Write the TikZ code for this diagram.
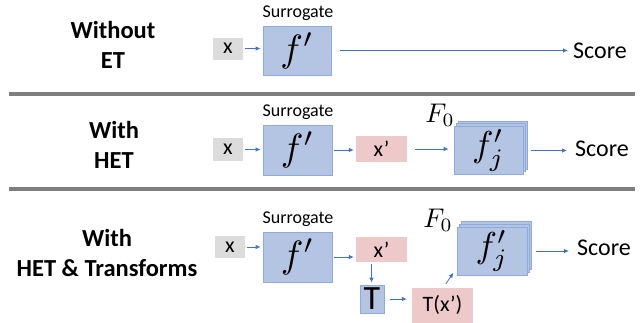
\documentclass[tikz,border=0pt]{standalone}
\usepackage{graphicx}
\usepackage{fontspec}
\setmainfont{Carlito}
\usetikzlibrary{arrows.meta,calc}
\definecolor{bfill}{HTML}{B4C5E4}
\definecolor{bdraw}{HTML}{8FAADC}
\definecolor{pfill}{HTML}{EDC9C9}
\definecolor{gfill}{HTML}{DCDCDC}
\definecolor{arrowblue}{HTML}{4472C4}
\definecolor{sepgray}{HTML}{7F7F7F}
\newcommand{\bigmath}[2]{\scalebox{#1}{\normalsize$#2$}}
\begin{document}
\begin{tikzpicture}[x=1pt,y=-1pt,
  title/.style={align=center,font=\bfseries\fontsize{24.5}{30}\selectfont,inner sep=0},
  lab/.style={font=\fontsize{18}{20}\selectfont,inner sep=0},
  scoretxt/.style={anchor=west,font=\fontsize{24}{26}\selectfont,inner sep=0},
  graybox/.style={fill=gfill,draw=none,minimum width=30,minimum height=22,inner sep=0,font=\fontsize{22}{24}\selectfont},
  pinkbox/.style={fill=pfill,draw=none,inner sep=0,font=\fontsize{22}{24}\selectfont},
  bluebox/.style={fill=bfill,draw=bdraw,line width=0.8pt,inner sep=0},
  arr/.style={draw=arrowblue,line width=0.8pt,-{Latex[length=5pt,width=4.5pt]},shorten <=2pt,shorten >=2pt},
  sepline/.style={draw=sepgray,line width=3.5pt}
]
\useasboundingbox (0,0) rectangle (641,322);

% separators
\coordinate (s1a) at (9,94);
\coordinate (s1b) at (635,94);
\coordinate (s2a) at (9,189);
\coordinate (s2b) at (635,189);
\draw[sepline] (s1a) -- (s1b);
\draw[sepline] (s2a) -- (s2b);

% ---------- Row 1 ----------
\node[title] (t1) at (113,45) {Without\\ET};
\node[graybox] (x1) at (228,48.5) {x};
\node[bluebox,minimum width=68,minimum height=49] (f1) at (297,50.5) {\bigmath{3.8}{f'}};
\node[lab] (sur1) at (298,13.5) {Surrogate};
\node[scoretxt] (sc1) at (573,51) {Score};
\draw[arr] (x1.east) -- (x1.east -| f1.west);
\draw[arr,shorten <=9pt,shorten >=5pt] (f1.east) -- (f1.east -| sc1.west);

% ---------- Row 2 ----------
\node[title] (t2) at (114,145) {With\\HET};
\node[graybox,minimum height=23] (x2) at (228,149.5) {x};
\node[bluebox,minimum width=69,minimum height=50] (f2) at (297.5,150) {\bigmath{3.8}{f'}};
\node[lab] (sur2) at (298,112.5) {Surrogate};
\node[pinkbox,minimum width=51,minimum height=26] (xp2) at (381.5,149) {x’};
\node[inner sep=0] (F02) at (440,115) {\bigmath{2.7}{F_0}};
\node[bluebox,minimum width=69,minimum height=48] (fj2c) at (492.5,145) {};
\node[bluebox,minimum width=69,minimum height=48] (fj2b) at (490.5,147.5) {};
\node[bluebox,minimum width=69,minimum height=48] (fj2) at (488.5,150.5) {\bigmath{3.6}{f'_j}};
\node[scoretxt] (sc2) at (575,149) {Score};
\draw[arr] (x2.east) -- (x2.east -| f2.west);
\draw[arr] (f2.east) -- (f2.east -| xp2.west);
\draw[arr,shorten <=8pt,shorten >=5pt] (xp2.east) -- (xp2.east -| fj2.west);
\draw[arr,shorten <=8pt,shorten >=8pt] (fj2.east) -- (fj2.east -| sc2.west);

% ---------- Row 3 ----------
\node[title] (t3) at (107,253) {With\\HET \& Transforms};
\node[graybox] (x3) at (230,247) {x};
\node[bluebox,minimum width=69,minimum height=50] (f3) at (297.5,257) {\bigmath{3.8}{f'}};
\node[lab] (sur3) at (298,219.5) {Surrogate};
\node[pinkbox,minimum width=51,minimum height=25] (xp3) at (381.5,249.5) {x’};
\node[bluebox,minimum width=24,minimum height=28,font=\fontsize{34}{34}\selectfont] (T3) at (372,299) {T};
\node[pinkbox,minimum width=61,minimum height=35] (Tx3) at (442.5,305) {T(x’)};
\node[inner sep=0] (F03) at (438,220) {\bigmath{2.7}{F_0}};
\node[bluebox,minimum width=70,minimum height=48] (fj3c) at (496,245.5) {};
\node[bluebox,minimum width=70,minimum height=48] (fj3b) at (494,248) {};
\node[bluebox,minimum width=70,minimum height=48] (fj3) at (492,251) {\bigmath{3.6}{f'_j}};
\node[scoretxt] (sc3) at (577,248) {Score};
\draw[arr] (x3.east) -- (x3.east -| f3.west);
\draw[arr] (f3.east) -- (f3.east -| xp3.west);
\draw[arr] ([xshift=-10pt]xp3.south) -- ([xshift=-10pt]xp3.south |- T3.north);
\draw[arr,shorten <=6pt,shorten >=5pt] (T3.east) -- (T3.east -| Tx3.west);
\draw[arr,shorten <=4pt,shorten >=4pt] ([xshift=1pt]Tx3.north) -- ([xshift=-1pt,yshift=6pt]fj3.south west);
\draw[arr,shorten <=9pt,shorten >=8pt] (fj3.east) -- (fj3.east -| sc3.west);
\end{tikzpicture}
\end{document}
